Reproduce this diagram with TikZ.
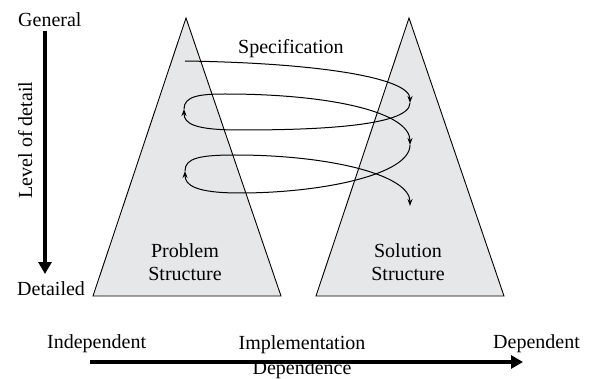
\documentclass[tikz,border=0pt]{standalone}
\usepackage{fontspec}
\setmainfont{Liberation Serif}
\usetikzlibrary{arrows.meta}
\definecolor{trifill}{HTML}{E6E7E8}
\tikzset{
  tri/.style={draw=black, fill=trifill, line width=0.9pt, line join=miter},
  lbl/.style={font=\fontsize{20}{23}\selectfont, inner sep=0pt, align=center},
  axisarrow/.style={line width=3.3pt, -{Triangle[length=12pt,width=13pt]}},
  spiral/.style={line width=1pt, -{Stealth[length=7pt,width=5pt]}}
}
\begin{document}
\begin{tikzpicture}[x=1pt,y=-1pt]
\useasboundingbox (0,0) rectangle (591,379);
% triangles
\draw[tri] (186,18) -- (281,296) -- (93,296) -- cycle;
\draw[tri] (409,18) -- (504,296) -- (316,296) -- cycle;
% labels
\node[lbl, anchor=base west] (gen) at (18,27) {General};
\node[lbl, anchor=base west] (det) at (17,295) {Detailed};
\node[lbl, anchor=base, rotate=90] (lod) at (32,140) {Level of detail};
\node[lbl, anchor=base west] (indep) at (47,348) {Independent};
\node[lbl, anchor=base west] (dep) at (493,348) {Dependent};
\node[lbl, anchor=base west] (spec) at (238,54) {Specification};
\node[lbl] (prob) at (185,261.7) {Problem\\Structure};
\node[lbl] (sol) at (408,261.7) {Solution\\Structure};
\node[lbl, font=\fontsize{20}{25}\selectfont] (impl) at (302,357.5) {Implementation\\Dependence};
% axes
\coordinate (vtop) at (45,31);
\coordinate (vbot) at (45,274);
\coordinate (hleft) at (90,362);
\coordinate (hright) at (523,362);
\draw[axisarrow] (vtop) -- (vbot);
\draw[axisarrow] (hleft) -- (hright);
% spiral
\coordinate (s0) at (185,61);
\coordinate (s1) at (410,103);
\coordinate (s2) at (184,109);
\coordinate (s3) at (410,145);
\coordinate (s4) at (185,171);
\coordinate (s5) at (410,206);
\draw[spiral] (s0) .. controls (320,63) and (410,78) .. (s1);
\draw[spiral] (s1) .. controls (410,128) and (300,130) .. (240,130) .. controls (195,130) and (184,124) .. (s2);
\draw[spiral] (s2) .. controls (184,96) and (200,94) .. (225,94) .. controls (330,94) and (410,112) .. (s3);
\draw[spiral] (s3) .. controls (410,175) and (320,193) .. (240,193) .. controls (195,193) and (185,185) .. (s4);
\draw[spiral] (s4) .. controls (185,158) and (200,155) .. (235,155) .. controls (330,155) and (410,175) .. (s5);
\end{tikzpicture}
\end{document}
